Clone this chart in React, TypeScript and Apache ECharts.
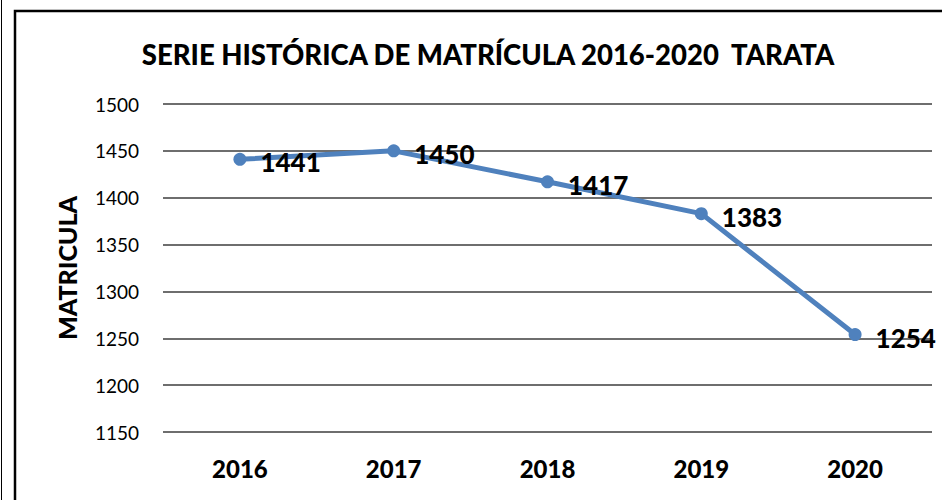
import React, { useEffect, useRef } from "react";
import * as echarts from "echarts";

const years = ["2016", "2017", "2018", "2019", "2020"];
const matricula = [1441, 1450, 1417, 1383, 1254];
const yMin = 1150;
const yMax = 1500;
const yStep = 50;

export default function App() {
  const ref = useRef<HTMLDivElement>(null);
  useEffect(() => {
    if (!ref.current) return;
    const chart = echarts.init(ref.current, undefined, { renderer: "svg" });
    const font = "Lato, 'Open Sans', sans-serif";
    chart.setOption({
      animation: false,
      backgroundColor: "#ffffff",
      title: {
        text: "SERIE HISTÓRICA DE MATRÍCULA 2016-2020  TARATA",
        left: 483,
        textAlign: "center",
        top: 35,
        textStyle: { fontFamily: font, fontWeight: 900, fontSize: 27.5, color: "#000" },
      },
      graphic: [
        { type: "line", shape: { x1: 1.5, y1: 0, x2: 1.5, y2: 500 }, style: { stroke: "#000", lineWidth: 1 } },
        { type: "rect", shape: { x: 15, y: 11, width: 1000, height: 600 }, style: { fill: "none", stroke: "#000", lineWidth: 2.5 } },
      ],
      grid: { left: 163, top: 104, width: 769, height: 328, containLabel: false },
      xAxis: {
        type: "category",
        data: years,
        boundaryGap: true,
        axisLine: { show: false },
        axisTick: { show: false },
        axisLabel: { margin: 24, fontFamily: font, fontWeight: 900, fontSize: 24, color: "#000" },
      },
      yAxis: {
        type: "value",
        min: yMin,
        max: yMax,
        interval: yStep,
        name: "MATRICULA",
        nameLocation: "middle",
        nameGap: 84,
        nameRotate: 90,
        nameTextStyle: { fontFamily: font, fontWeight: 900, fontSize: 25, color: "#000" },
        axisLine: { show: false },
        axisTick: { show: false },
        axisLabel: { margin: 24, fontFamily: font, fontSize: 19, color: "#000", formatter: (v: number) => String(v) },
        splitLine: { lineStyle: { color: "#6e6e6e", width: 2 } },
      },
      series: [
        {
          type: "line",
          data: matricula,
          symbol: "circle",
          symbolSize: 13,
          lineStyle: { color: "#4F81BD", width: 5 },
          itemStyle: { color: "#4F81BD" },
          label: {
            show: true,
            position: "right",
            distance: 14,
            offset: [0, 3],
            fontFamily: font,
            fontWeight: 900,
            fontSize: 26,
            color: "#000",
          },
        },
      ],
    });
    return () => chart.dispose();
  }, []);
  return <div ref={ref} style={{ width: 942, height: 500, position: "absolute", left: 0, top: 0 }} />;
}
